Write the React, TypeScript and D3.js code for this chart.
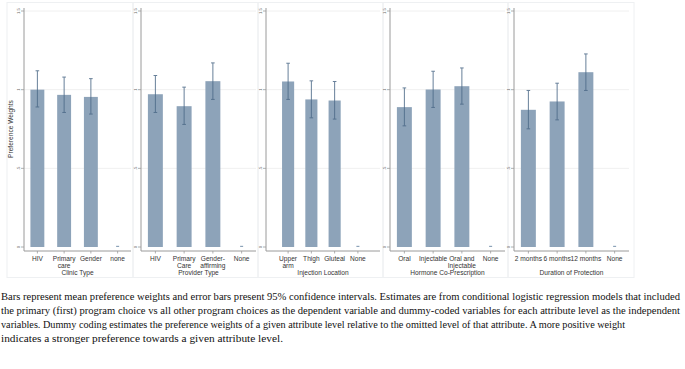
import React from "react";
import * as d3 from "d3";

// category labels ("\n" = line break under the axis)
const clinicTypes = ["HIV", "Primary\ncare", "Gender", "none"];
const providerTypes = ["HIV", "Primary\nCare", "Gender-\naffirming", "None"];
const injectionLocations = ["Upper\narm", "Thigh", "Gluteal", "None"];
const hormoneOptions = ["Oral", "Injectable", "Oral and\nInjectable", "None"];
const durations = ["2 months", "6 months", "12 months", "None"];

// mean preference weights and 95% CI
const clinicMean = [1.0, 0.967, 0.954, 0];
const clinicLow = [0.89, 0.855, 0.845, 0];
const clinicHigh = [1.12, 1.08, 1.07, 0];

const providerMean = [0.971, 0.895, 1.054, 0];
const providerLow = [0.855, 0.779, 0.938, 0];
const providerHigh = [1.09, 1.016, 1.17, 0];

const locationMean = [1.052, 0.938, 0.931, 0];
const locationLow = [0.938, 0.821, 0.813, 0];
const locationHigh = [1.168, 1.056, 1.052, 0];

const hormoneMean = [0.889, 1.001, 1.022, 0];
const hormoneLow = [0.77, 0.887, 0.908, 0];
const hormoneHigh = [1.011, 1.117, 1.138, 0];

const durationMean = [0.872, 0.925, 1.111, 0];
const durationLow = [0.751, 0.808, 0.995, 0];
const durationHigh = [0.995, 1.041, 1.227, 0];

const yTicks = [0, 0.5, 1, 1.5];
const yTickLabels = ["0", ".5", "1", "1.5"];

const captionLines = [
  "Bars represent mean preference weights and error bars present 95% confidence intervals. Estimates are from conditional logistic regression models that included",
  "the primary (first) program choice vs all other program choices as the dependent variable and dummy-coded variables for each attribute level as the independent",
  "variables. Dummy coding estimates the preference weights of a given attribute level relative to the omitted level of that attribute. A more positive weight",
  "indicates a stronger preference towards a given attribute level.",
];
const captionWidths = [679, 679, 624, 282];

const W = 685;
const H = 369;
const BAR = "#8da3b9";
const ERR = "#4d6a88";
const AXIS = "#9a9a9a";
const TXT = "#333";
const SANS = "'Liberation Sans', Arial, Helvetica, sans-serif";
const SERIF = "'Liberation Serif', 'Times New Roman', Times, serif";

const panels = [
  { title: "Clinic Type", cats: clinicTypes, mean: clinicMean, lo: clinicLow, hi: clinicHigh, box: [7, 133], plot: [24, 131], pad: 0.5 },
  { title: "Provider Type", cats: providerTypes, mean: providerMean, lo: providerLow, hi: providerHigh, box: [133, 258], plot: [141, 256], pad: 0.5 },
  { title: "Injection Location", cats: injectionLocations, mean: locationMean, lo: locationLow, hi: locationHigh, box: [258, 383], plot: [266, 380], pad: 0.95 },
  { title: "Hormone Co-Prescription", cats: hormoneOptions, mean: hormoneMean, lo: hormoneLow, hi: hormoneHigh, box: [383, 508], plot: [390, 505], pad: 0.5 },
  { title: "Duration of Protection", cats: durations, mean: durationMean, lo: durationLow, hi: durationHigh, box: [508, 634], plot: [514, 629], pad: 0.5 },
];

const y = d3.scaleLinear().domain([0, 1.5]).range([247, 11]);
const AXIS_Y = 251;

function Panel({ p, first }: { p: any; first: boolean }) {
  const x = d3.scalePoint<string>().domain(p.cats).range(p.plot).padding(p.pad);
  const bw = x.step() * 0.52;
  const [x0, x1] = p.plot;
  return (
    <g style={{ fontFamily: SANS }}>
      <rect x={p.box[0]} y={2.5} width={p.box[1] - p.box[0]} height={275} fill="none" stroke="#eef0f2" strokeWidth={1} />
      {yTicks.slice(1).map((t) => (
        <line key={t} x1={x0} x2={x1} y1={y(t)} y2={y(t)} stroke="#f0f0f0" strokeWidth={1} />
      ))}
      {p.cats.map((c: string, i: number) => {
        const cx = x(c)!;
        const top = y(p.mean[i]);
        const h = Math.max(1.2, y(0) - top);
        const w = p.mean[i] === 0 ? 3 : bw;
        return (
          <g key={c}>
            <rect x={cx - w / 2} y={y(0) - h} width={w} height={h} fill={BAR} />
            {p.hi[i] > p.lo[i] && (
              <g stroke={ERR} strokeWidth={1} opacity={0.85}>
                <line x1={cx} x2={cx} y1={y(p.hi[i])} y2={y(p.lo[i])} />
                <line x1={cx - 1.8} x2={cx + 1.8} y1={y(p.hi[i])} y2={y(p.hi[i])} />
                <line x1={cx - 1.8} x2={cx + 1.8} y1={y(p.lo[i])} y2={y(p.lo[i])} />
              </g>
            )}
            <line x1={cx} x2={cx} y1={AXIS_Y} y2={AXIS_Y + 2.5} stroke={AXIS} strokeWidth={0.8} />
            {c.split("\n").map((ln, j) => (
              <text key={j} x={cx} y={261 + j * 6.8} textAnchor="middle" fontSize={6.6} fill={TXT}>{ln}</text>
            ))}
          </g>
        );
      })}
      <line x1={x0} x2={x1} y1={AXIS_Y} y2={AXIS_Y} stroke={AXIS} strokeWidth={1} />
      <line x1={x0} x2={x0} y1={8} y2={AXIS_Y} stroke={AXIS} strokeWidth={1} />
      {yTicks.map((t, i) => (
        <g key={t}>
          <line x1={x0 - 3} x2={x0} y1={y(t)} y2={y(t)} stroke={AXIS} strokeWidth={0.8} />
          <text transform={`translate(${x0 - 4.5},${y(t)}) rotate(-90)`} textAnchor="middle" fontSize={4.2} fill="#666">{yTickLabels[i]}</text>
        </g>
      ))}
      <text x={(x0 + x1) / 2} y={274.5} textAnchor="middle" fontSize={6.6} fill={TXT}>{p.title}</text>
      {first && (
        <text transform={`translate(13,${y(0.75)}) rotate(-90)`} textAnchor="middle" fontSize={6.6} fill={TXT}>Preference Weights</text>
      )}
    </g>
  );
}

export default function App() {
  return (
    <svg width={W} height={H} style={{ position: "absolute", left: 0, top: 0, background: "#fff" }}>
      <rect width={W} height={H} fill="#fff" />
      {panels.map((p, i) => (
        <Panel key={p.title} p={p} first={i === 0} />
      ))}
      <g style={{ fontFamily: SERIF }}>
        {captionLines.map((ln, i) => (
          <text key={i} x={1} y={300 + i * 14} fontSize={10.4} fill="#111"
            textLength={captionWidths[i]} lengthAdjust="spacingAndGlyphs">{ln}</text>
        ))}
      </g>
    </svg>
  );
}
